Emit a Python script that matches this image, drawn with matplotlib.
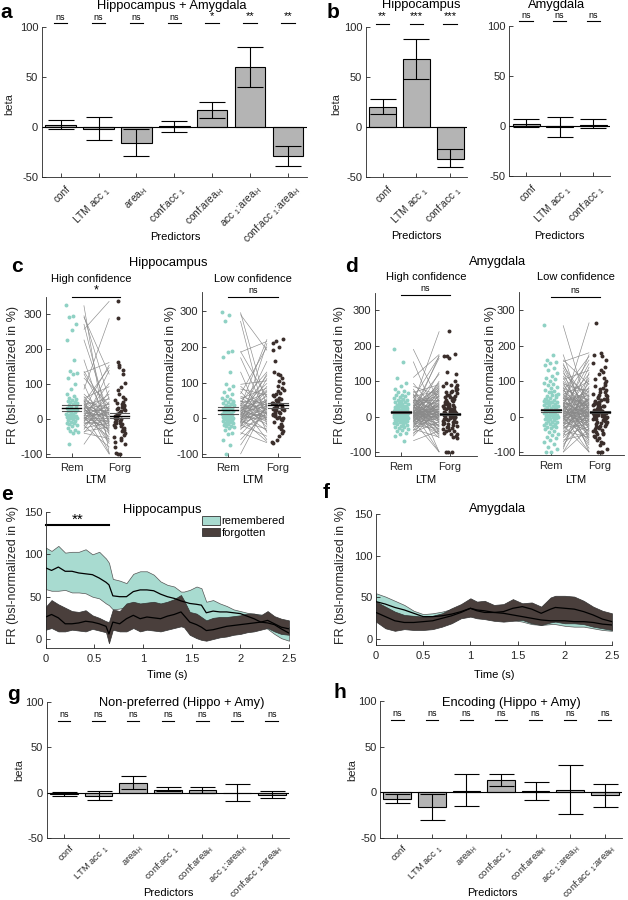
import numpy as np
import matplotlib
matplotlib.use("Agg")
import matplotlib.pyplot as plt
from matplotlib.collections import LineCollection
from matplotlib.patches import Patch
import matplotlib.transforms as mtransforms

plt.rcParams['font.family'] = ['Liberation Sans', 'DejaVu Sans']
plt.rcParams['mathtext.fontset'] = 'custom'
plt.rcParams['mathtext.rm'] = 'Liberation Sans'
plt.rcParams['mathtext.it'] = 'Liberation Sans:italic'
plt.rcParams['axes.unicode_minus'] = False

# ---------------- data ----------------
lab7 = ["conf", r"LTM acc $_1$", r"area$_{\mathrm{H}}$", r"conf:acc $_1$",
        r"conf:area$_{\mathrm{H}}$", r"acc $_1$:area$_{\mathrm{H}}$",
        r"conf:acc $_1$:area$_{\mathrm{H}}$"]
lab3 = ["conf", r"LTM acc $_1$", r"conf:acc $_1$"]

a_beta = [2, -2, -15.7, 0.7, 16.7, 59.8, -29]
a_lo = [-2.3, -13, -29.4, -5.3, 9.4, 39.7, -38.7]
a_hi = [6.7, 9.7, -2, 5.7, 24.7, 80, -19.4]
a_sig = ["ns", "ns", "ns", "ns", "*", "**", "**"]

bh_beta = [20.4, 68, -31.7]
bh_lo = [13, 48.4, -40.4]
bh_hi = [27.7, 87.8, -22]
bh_sig = ["**", "***", "***"]

ba_beta = [1.5, -1.5, 1.2]
ba_lo = [-1.5, -11, -2.5]
ba_hi = [6.5, 9, 6.5]
ba_sig = ["ns", "ns", "ns"]

g_beta = [-1.5, -3.3, 10.6, 3.3, 3.3, 0, -2.2]
g_lo = [-3.5, -8, 4, 1.5, 0, -9.2, -6.2]
g_hi = [0.5, 2.2, 17.9, 6.2, 6.6, 9.5, 2.2]
g_sig = ["ns"] * 7

h_beta = [-6.9, -15.7, 1.8, 13.9, 1.5, 2.9, -3.3]
h_lo = [-12, -30.6, -15.3, 6.6, -8.4, -24.1, -15.7]
h_hi = [-1.5, -1.5, 20.4, 20.4, 11.7, 29.9, 9.5]
h_sig = ["ns"] * 7

# panel c / d: firing rates per neuron (Rem, Forg pairs)
hh_rem = [325, 296, 292, 272, 256, 227, 170, 137, 133, 130, 118, 100, 85, 72, 65, 60, 58, 55, 52, 50,
          48, 45, 42, 40, 38, 35, 33, 30, 28, 26, 25, 22, 20, 18, 16, 15, 12, 10, 8, 6,
          5, 3, 2, 0, -2, -5, -8, -10, -12, -15, -18, -20, -25, -30, -35, -38, -40, -72, 45, 30]
hh_forg = [-100, 55, 128, -20, 337, 10, -45, 22, 162, -8, 40, -60, 288, 4, -25, 93, 12, -98, 30, 0,
           148, -12, 58, -35, 18, 6, -70, 42, 155, -2, 25, -15, 72, 8, -40, 35, -100, 15, 103, -28,
           20, 2, -50, 62, -4, 46, -18, 140, -6, 28, -80, 50, -10, 82, -22, 38, -55, 32, -65, -32]
hh_stats = [32, 8, 10, 7]   # rem mean, rem sem, forg mean, forg sem

hl_rem = [296, 290, 272, 187, 185, 170, 130, 95, 90, 82, 75, 68, 62, 58, 55, 50, 47, 45, 42, 40,
          38, 36, 34, 32, 30, 28, 26, 25, 23, 21, 20, 18, 16, 15, 13, 12, 10, 8, 7, 5,
          4, 2, 0, -2, -3, -5, -7, -8, -10, -12, -14, -16, -18, -20, -22, -25, -28, -32, -40, -45,
          -60, -75, -100, 48]
hl_forg = [30, 190, -20, 58, 215, 8, -40, 105, 22, 65, -6, 200, 36, 12, 85, -25, 45, 130, 2, 72,
           -60, 28, 221, 16, 50, -10, 98, 40, 0, 62, -35, 120, 34, 6, 80, -15, 48, 160, 24, -3,
           76, 14, -65, 55, 125, 20, 43, -30, 90, 10, 210, 38, -50, 68, 26, 112, 4, 52, -68, 32,
           18, 35, 42, 25]
hl_stats = [22, 10, 37, 7]

ah_rem = [190, 155, 110, 94, 85, 78, 72, 68, 65, 62, 60, 57, 55, 52, 50, 48, 46, 44, 42, 40,
          38, 36, 35, 33, 31, 30, 28, 27, 25, 24, 22, 21, 20, 18, 17, 16, 15, 14, 13, 12,
          11, 10, 9, 8, 7, 6, 5, 4, 3, 2, 1, 0, -1, -2, -3, -4, -5, -6, -7, -8,
          -9, -10, -11, -12, -13, -14, -15, -16, -18, -20, -22, -24, -26, -28, -30, -32, -35, -38, -40, -45,
          -50, -55, -68, 25, 18, 12, 8, 5, 2, -2, 30, 15, 10, 45, 20, 0]
ah_forg = [40, -20, 175, 5, 60, -45, 12, 90, -100, 25, 0, 72, -30, 170, 8, 48, -10, 35, -55, 18,
           240, -5, 82, 2, -38, 55, 120, -15, 30, 10, 65, -25, 165, 20, -50, 45, 3, -100, 78, -8,
           15, 95, -35, 28, 6, 172, -12, 50, -2, 38, 86, -42, 22, 125, -18, 0, 68, -28, 14, 100,
           -48, 32, 4, 58, -100, 26, -6, 80, 16, -22, 42, 9, -33, 62, 1, 75, -58, 36, 11, -14,
           52, 24, -40, 88, 7, -3, 46, -60, 34, 13, 70, -26, 19, 56, -8, 30]
ah_stats = [13, 2, 7, 3]

al_rem = [257, 175, 160, 155, 150, 145, 138, 130, 122, 115, 110, 105, 100, 96, 92, 88, 84, 80, 76, 72,
          68, 65, 62, 58, 55, 52, 50, 47, 45, 42, 40, 38, 36, 34, 32, 30, 28, 26, 24, 22,
          20, 18, 16, 15, 14, 12, 10, 9, 8, 6, 5, 4, 2, 1, 0, -1, -2, -4, -5, -6,
          -8, -10, -12, -14, -16, -18, -20, -22, -24, -26, -28, -30, -33, -36, -40, -44, -48, -52, -56, -60,
          -66, -72, -78, -85, -92, -100, -100, 25, 35, 45, 15, 5, 60, 70, 20, 10, 0, 30, 40, 50]
al_forg = [10, -40, 90, 180, -15, 35, 0, -70, 55, 20, -25, 130, 5, -55, 70, 15, -100, 45, -5, 170,
           25, -35, 100, 8, -60, 40, 160, -10, 60, 2, -90, 30, 120, -20, 50, -45, 12, 265, -2, 80,
           18, -30, 150, 6, -80, 38, -8, 110, 28, -50, 65, 0, -100, 22, 175, -12, 48, -65, 14, 95,
           -18, 32, 4, 140, -38, 52, -4, 75, -100, 26, 85, -22, 16, 42, -58, 62, 3, -28, 105, 9,
           -48, 36, -6, 58, 125, -33, 20, 44, -75, 68, 1, -14, 30, 78, -42, 11, 50, -26, 7, 34]
al_stats = [18, 4, 13, 3]

# panel e: hippocampus time courses
te = [0, 0.06, 0.13, 0.2, 0.27, 0.34, 0.41, 0.48, 0.55, 0.62, 0.65, 0.69, 0.76, 0.83, 0.9, 0.97,
      1.04, 1.11, 1.18, 1.25, 1.32, 1.39, 1.42, 1.48, 1.55, 1.6, 1.65, 1.72, 1.79, 1.86, 1.93, 2.0,
      2.07, 2.14, 2.21, 2.28, 2.35, 2.42, 2.5]
e_rem_hi = [108, 104, 110, 102, 103, 103, 106, 100, 103, 95, 90, 71, 69, 66, 77, 80,
            80, 76, 68, 64, 62, 56, 56, 58, 62, 60, 44, 46, 42, 39, 35, 33,
            31, 30, 29, 27, 22, 18, 14]
e_rem_m = [84, 81, 85, 80, 80, 78, 77, 76, 72, 67, 64, 51, 50, 50, 56, 58,
           58, 57, 53, 50, 48, 45, 44, 42, 41, 40, 31, 33, 32, 32, 31, 30,
           27, 24, 20, 19, 17, 12, 7]
e_rem_lo = [59, 57, 57, 58, 55, 55, 54, 50, 48, 42, 40, 35, 36, 38, 38, 38,
            39, 38, 37, 35, 33, 30, 28, 24, 20, 19, 18, 20, 21, 22, 22, 24,
            25, 22, 17, 12, 6, 1, -2]
e_for_hi = [38, 46, 41, 37, 33, 32, 34, 28, 25, 21, 20, 35, 33, 42, 44, 42,
            43, 44, 42, 44, 47, 52, 46, 32, 30, 26, 22, 25, 26, 26, 27, 28,
            30, 30, 28, 33, 27, 24, 22]
e_for_m = [26, 29, 25, 18, 18, 19, 21, 20, 18, 15, 6, 20, 18, 24, 28, 24,
           26, 25, 24, 27, 29, 32, 28, 20, 17, 14, 10, 11, 13, 15, 16, 17,
           18, 19, 20, 22, 18, 14, 12]
e_for_lo = [11, 13, 9, 9, 11, 10, 9, 12, 10, 8, -5, 11, 9, 9, 13, 9,
            11, 10, 9, 11, 13, 15, 14, 5, 1, -1, -2, 0, 2, 3, 5, 6,
            8, 9, 11, 13, 9, 6, 5]

# panel f: amygdala time courses
tf = [0, 0.1, 0.2, 0.3, 0.4, 0.5, 0.6, 0.7, 0.8, 0.9, 1.0, 1.07, 1.15, 1.25, 1.35, 1.45, 1.55,
      1.65, 1.75, 1.85, 1.9, 2.0, 2.1, 2.2, 2.3, 2.4, 2.5]
f_rem_hi = [55, 51, 46, 41, 34, 30, 31, 33, 36, 38, 42, 40, 38, 38, 37, 35, 33, 31, 29, 28, 28, 28, 27, 26, 25, 23, 22]
f_rem_m = [45, 42, 38, 35, 31, 27, 27, 28, 30, 33, 37, 34, 32, 32, 31, 29, 27, 25, 23, 22, 22, 22, 21, 21, 20, 18, 17]
f_rem_lo = [35, 33, 30, 28, 27, 23, 24, 25, 26, 28, 31, 29, 27, 26, 25, 23, 21, 18, 17, 18, 18, 16, 15, 15, 13, 11, 10]
f_for_hi = [45, 39, 33, 29, 28, 27, 28, 31, 37, 42, 49, 45, 46, 41, 42, 48, 43, 44, 39, 50, 52, 52, 51, 46, 39, 34, 31]
f_for_m = [32, 27, 22, 20, 20, 21, 22, 25, 28, 32, 37, 35, 34, 32, 33, 37, 39, 36, 31, 36, 38, 37, 36, 33, 29, 24, 21]
f_for_lo = [21, 13, 10, 12, 11, 11, 12, 15, 19, 25, 27, 25, 24, 22, 21, 22, 23, 19, 17, 20, 21, 19, 19, 18, 15, 13, 11]

# ---------------- style ----------------
W, H = 628, 900
fig = plt.figure(figsize=(W / 100, H / 100), dpi=100)
AX = '#262626'
BAR = '#b4b4b4'
TEAL_FILL = '#a8dbd0'
TEAL_PT = '#8fd1c4'
DARK_FILL = '#4a3f3c'
DARK_PT = '#3a2e2b'
LINEGRAY = '#8a8a8a'


def add_ax(L, T, R, B):
    return fig.add_axes([L / W, 1 - B / H, (R - L) / W, (B - T) / H])


def ftext(x, y, s, **kw):
    kw.setdefault('ha', 'center')
    kw.setdefault('va', 'center')
    kw.setdefault('color', 'black')
    fig.text(x / W, 1 - y / H, s, **kw)


def style(ax):
    for s in ['top', 'right']:
        ax.spines[s].set_visible(False)
    for s in ['left', 'bottom']:
        ax.spines[s].set_color(AX)
        ax.spines[s].set_linewidth(0.6)
    ax.tick_params(direction='in', length=3, width=0.6, color=AX, labelsize=8,
                   labelcolor=AX, pad=2.5)
    ax.patch.set_alpha(0)


def bar_panel(ax, labels, beta, lo, hi, sig, sig_line, sig_text, half=0.18, cap=9.5,
              lab_fs=7.3, lab_dy=3):
    n = len(beta)
    x = np.arange(1, n + 1)
    b = np.array(beta, float)
    ax.bar(x, b, width=0.8, color=BAR, edgecolor='black', linewidth=0.8, zorder=2)
    ax.errorbar(x, b, yerr=[b - np.array(lo), np.array(hi) - b], fmt='none', ecolor='black',
                elinewidth=0.8, capsize=cap, capthick=0.8, zorder=3)
    ax.axhline(0, color='black', lw=0.8, zorder=2.5)
    ax.set_xlim(0.5, n + 0.5)
    ax.set_ylim(-50, 100)
    ax.set_yticks([-50, 0, 50, 100])
    ax.set_xticks(x)
    ax.set_xticklabels(labels, rotation=45, ha='right', va='top', rotation_mode='anchor',
                       fontsize=lab_fs)
    style(ax)
    ax.tick_params(axis='x', labelsize=lab_fs)
    off = mtransforms.ScaledTranslation(5 / 100, -lab_dy / 100, fig.dpi_scale_trans)
    for lbl in ax.get_xticklabels():
        lbl.set_transform(lbl.get_transform() + off)
    for xi, s in zip(x, sig):
        ax.plot([xi - half, xi + half], [sig_line, sig_line], color='black', lw=0.8, clip_on=False)
        if s == 'ns':
            ax.text(xi, sig_text, s, ha='center', va='center', fontsize=6.5, clip_on=False)
        else:
            ax.text(xi, sig_text + 1, s, ha='center', va='center', fontsize=8, clip_on=False)


def scatter_panel(ax, rem, forg, stats, xlim, ylim, jit, sig, sig_y, x0=1.25, x1=1.78):
    rem = np.array(rem, float)
    forg = np.array(forg, float)
    segs = [[(x0, r), (x1, f)] for r, f in zip(rem, forg)]
    ax.add_collection(LineCollection(segs, colors=LINEGRAY, linewidths=0.45, zorder=1))
    n = len(rem)
    k = np.arange(n)
    off1 = ((k * 0.618034) % 1 - 0.5) * 2 * jit
    off2 = ((k * 0.754878 + 0.3) % 1 - 0.5) * 2 * jit
    ax.scatter(1 + off1, rem, s=8, color=TEAL_PT, linewidths=0, zorder=2)
    ax.scatter(2 + off2, forg, s=8, color=DARK_PT, linewidths=0, zorder=2)
    rm, rs, fm, fs = stats
    for xc, m, s in [(1, rm, rs), (2, fm, fs)]:
        for v, c, w in [(m - s, '#555555', 0.8), (m + s, '#555555', 0.8), (m, 'black', 1.0)]:
            ax.plot([xc - 0.2, xc + 0.2], [v, v], color=c, lw=w, zorder=3)
    ax.set_xlim(*xlim)
    ax.set_ylim(*ylim)
    ax.set_yticks([-100, 0, 100, 200, 300])
    ax.set_xticks([1, 2])
    ax.set_xticklabels(['Rem', 'Forg'])
    style(ax)
    ax.tick_params(axis='x', pad=4)
    ax.plot([1, 2], [sig_y, sig_y], color='black', lw=0.8, clip_on=False)
    tr = mtransforms.offset_copy(ax.transData, fig=fig, y=1.5 if sig == 'ns' else 0.5, units='points')
    ax.text(1.5, sig_y, sig, ha='center', va='bottom', fontsize=6.5 if sig == 'ns' else 9,
            transform=tr, clip_on=False)


def time_panel(ax, t, rh, rm, rl, fh, fm, fl, ylim):
    ax.fill_between(t, rl, rh, facecolor=TEAL_FILL, edgecolor='#555555', linewidth=0.5, zorder=1)
    ax.fill_between(t, fl, fh, facecolor=DARK_FILL, edgecolor='#333333', linewidth=0.5, zorder=2)
    ax.plot(t, rm, color='black', lw=0.9, zorder=3)
    ax.plot(t, fm, color='black', lw=0.9, zorder=3)
    ax.set_xlim(0, 2.5)
    ax.set_ylim(*ylim)
    ax.set_xticks([0, 0.5, 1, 1.5, 2, 2.5])
    ax.set_xticklabels(['0', '0.5', '1', '1.5', '2', '2.5'])
    ax.set_yticks([0, 50, 100, 150])
    style(ax)
    ax.tick_params(axis='x', pad=4)


# ---------------- panel a ----------------
axa = add_ax(41.7, 27, 307, 177)
bar_panel(axa, lab7, a_beta, a_lo, a_hi, a_sig, 104, 110)
ftext(172, 6, "Hippocampus + Amygdala", fontsize=9.3)
ftext(175, 237, "Predictors", fontsize=8)
ftext(9, 104, "beta", fontsize=8, rotation=90, color=AX)
ftext(6, 13, "a", fontsize=15, fontweight='bold')

# ---------------- panel b ----------------
axb1 = add_ax(365.7, 27, 467, 177)
bar_panel(axb1, lab3, bh_beta, bh_lo, bh_hi, bh_sig, 103, 110, half=0.2)
axb2 = add_ax(509.3, 25.5, 610, 176)
bar_panel(axb2, lab3, ba_beta, ba_lo, ba_hi, ba_sig, 104, 110, half=0.2)
ftext(421, 5, "Hippocampus", fontsize=9.3)
ftext(557, 5, "Amygdala", fontsize=9.3)
ftext(416, 236, "Predictors", fontsize=8)
ftext(559, 236, "Predictors", fontsize=8)
ftext(336, 104, "beta", fontsize=8, rotation=90, color=AX)
ftext(333, 13, "b", fontsize=15, fontweight='bold')

# ---------------- panel c ----------------
axc1 = add_ax(46, 297, 140, 457)
scatter_panel(axc1, hh_rem, hh_forg, hh_stats, (0.46, 2.42), (-108, 349), 0.12, '*', 349)
axc2 = add_ax(202, 292, 300, 457)
scatter_panel(axc2, hl_rem, hl_forg, hl_stats, (0.48, 2.44), (-108, 353), 0.12, 'ns', 339)
ftext(168, 263, "Hippocampus", fontsize=9.3)
ftext(91, 279, "High confidence", fontsize=8)
ftext(253, 279, "Low confidence", fontsize=8)
ftext(96, 480, "LTM", fontsize=8)
ftext(253, 480, "LTM", fontsize=8)
ftext(13, 375, "FR (bsl-normalized in %)", fontsize=9, rotation=90, color=AX)
ftext(171, 375, "FR (bsl-normalized in %)", fontsize=9, rotation=90, color=AX)
ftext(17, 267, "c", fontsize=15, fontweight='bold')

# ---------------- panel d ----------------
axd1 = add_ax(375, 293, 477, 456)
scatter_panel(axd1, ah_rem, ah_forg, ah_stats, (0.47, 2.55), (-111, 348), 0.15, 'ns', 342)
axd2 = add_ax(519, 292, 624, 455)
scatter_panel(axd2, al_rem, al_forg, al_stats, (0.35, 2.49), (-108, 351), 0.15, 'ns', 337)
ftext(498, 262, "Amygdala", fontsize=9.3)
ftext(426, 277, "High confidence", fontsize=8)
ftext(576, 277, "Low confidence", fontsize=8)
ftext(426, 480, "LTM", fontsize=8)
ftext(576, 480, "LTM", fontsize=8)
ftext(340, 375, "FR (bsl-normalized in %)", fontsize=9, rotation=90, color=AX)
ftext(491, 375, "FR (bsl-normalized in %)", fontsize=9, rotation=90, color=AX)
ftext(352, 267, "d", fontsize=15, fontweight='bold')

# ---------------- panel e ----------------
axe = add_ax(45.7, 512, 289, 648)
time_panel(axe, te, e_rem_hi, e_rem_m, e_rem_lo, e_for_hi, e_for_m, e_for_lo, (-10.6, 150))
axe.plot([0, 0.65], [135, 135], color='black', lw=1.5, clip_on=False)
axe.text(0.33, 141, "**", ha='center', va='center', fontsize=11)
ftext(162, 510, "Hippocampus", fontsize=9.3)
ftext(167, 675, "Time (s)", fontsize=8)
ftext(13, 575, "FR (bsl-normalized in %)", fontsize=9, rotation=90, color=AX)
ftext(7, 494, "e", fontsize=15, fontweight='bold')
leg = fig.legend(handles=[Patch(facecolor=TEAL_FILL, edgecolor='#333333', linewidth=0.6, label='remembered'),
                          Patch(facecolor=DARK_FILL, edgecolor='#333333', linewidth=0.6, label='forgotten')],
                 loc='upper left', bbox_to_anchor=(202 / W, 1 - 516 / H), frameon=False, fontsize=8,
                 handlelength=1.6, handleheight=0.8, handletextpad=0.15, labelspacing=0.15,
                 borderpad=0, borderaxespad=0)

# ---------------- panel f ----------------
axf = add_ax(376, 514, 612, 645)
time_panel(axf, tf, f_rem_hi, f_rem_m, f_rem_lo, f_for_hi, f_for_m, f_for_lo, (-7, 150))
ftext(498, 509, "Amygdala", fontsize=9.3)
ftext(494, 675, "Time (s)", fontsize=8)
ftext(341, 575, "FR (bsl-normalized in %)", fontsize=9, rotation=90, color=AX)
ftext(326, 493, "f", fontsize=15, fontweight='bold')

# ---------------- panel g ----------------
axg = add_ax(46.7, 702, 289, 838)
bar_panel(axg, lab7, g_beta, g_lo, g_hi, g_sig, 79, 86, half=0.18, cap=9, lab_fs=6.8, lab_dy=1.5)
ftext(182, 703, "Non-preferred (Hippo + Amy)", fontsize=9.3)
ftext(168, 893, "Predictors", fontsize=8)
ftext(19, 770, "beta", fontsize=8, rotation=90, color=AX)
ftext(13, 694, "g", fontsize=15, fontweight='bold')

# ---------------- panel h ----------------
axh = add_ax(380, 701, 622, 838)
bar_panel(axh, lab7, h_beta, h_lo, h_hi, h_sig, 79, 86, half=0.18, cap=9, lab_fs=6.8, lab_dy=1.5)
ftext(511, 703, "Encoding (Hippo + Amy)", fontsize=9.3)
ftext(492, 893, "Predictors", fontsize=8)
ftext(352, 770, "beta", fontsize=8, rotation=90, color=AX)
ftext(340, 692, "h", fontsize=15, fontweight='bold')

fig.savefig("out.png", dpi=100)
